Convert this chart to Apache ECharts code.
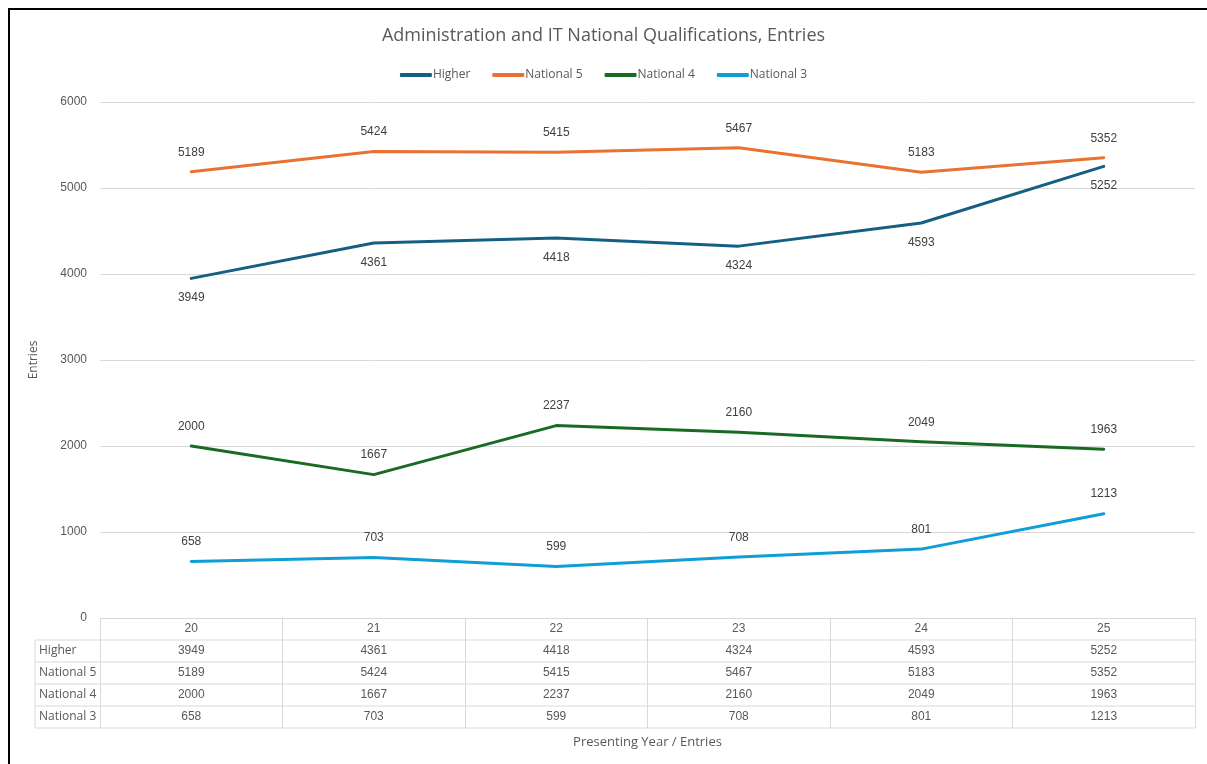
<!DOCTYPE html>
<html>
<head>
<meta charset="utf-8">
<script src="https://cdn.jsdelivr.net/npm/echarts@6/dist/echarts.min.js"></script>
<style>
  html, body { margin: 0; padding: 0; background: #ffffff; }
  #chart { width: 1207px; height: 764px; }
</style>
</head>
<body>
<div id="chart"></div>
<script>
// Presenting years (shown as two-digit years) and entries per qualification level
const years = ['20', '21', '22', '23', '24', '25'];
const higher = [3949, 4361, 4418, 4324, 4593, 5252];
const national5 = [5189, 5424, 5415, 5467, 5183, 5352];
const national4 = [2000, 1667, 2237, 2160, 2049, 1963];
const national3 = [658, 703, 599, 708, 801, 1213];
const seriesNames = ['Higher', 'National 5', 'National 4', 'National 3'];
const yMin = 0, yMax = 6000, yStep = 1000;

const colors = ['#156082', '#E97132', '#196B24', '#0F9ED5'];
const labelPos = ['bottom', 'top', 'top', 'top'];
const seriesData = [higher, national5, national4, national3];

const W = 1207, H = 764;
const GRID = { left: 100, right: 12, top: 102, bottom: 146 };
const ROW_H = 22;                       // data-table row height
const TABLE_LEFT = 35;                  // left edge of the row-name column
const axisY = H - GRID.bottom;          // pixel row of the category axis
const tableRows = seriesNames.length + 1;
const gridLine = '#d9d9d9';
const textColor = '#595959';
const numFont = '"Liberation Sans", Arial, sans-serif';
const uiFont = '"Open Sans", "Liberation Sans", sans-serif';

const chart = echarts.init(document.getElementById('chart'), null, { renderer: 'canvas' });

// Horizontal rules of the data table and the row-name column
const tableGraphics = [];
for (let r = 1; r <= tableRows; r++) {
  tableGraphics.push({
    type: 'line',
    shape: { x1: TABLE_LEFT, y1: axisY + r * ROW_H, x2: W - GRID.right, y2: axisY + r * ROW_H },
    style: { stroke: gridLine, lineWidth: 1 }
  });
}
tableGraphics.push({
  type: 'line',
  shape: { x1: TABLE_LEFT, y1: axisY + ROW_H, x2: TABLE_LEFT, y2: axisY + tableRows * ROW_H },
  style: { stroke: gridLine, lineWidth: 1 }
});
seriesNames.forEach((name, i) => {
  tableGraphics.push({
    type: 'text',
    x: TABLE_LEFT + 4,
    y: axisY + (i + 1) * ROW_H + ROW_H / 2,
    style: { text: name, fill: textColor, font: '12px ' + uiFont, textVerticalAlign: 'middle' }
  });
});

const option = {
  animation: false,
  backgroundColor: '#ffffff',
  color: colors,
  title: {
    text: 'Administration and IT National Qualifications, Entries',
    left: 'center',
    top: 22,
    textStyle: { color: textColor, fontSize: 18, fontWeight: 'normal', fontFamily: uiFont }
  },
  legend: {
    top: 64,
    left: 'center',
    itemWidth: 32,
    itemHeight: 4,
    itemGap: 22,
    icon: 'roundRect',
    data: seriesNames,
    textStyle: { color: textColor, fontSize: 12, fontFamily: uiFont, padding: [0, 0, 0, -4] }
  },
  grid: { left: GRID.left, right: GRID.right, top: GRID.top, bottom: GRID.bottom, containLabel: false },
  xAxis: {
    type: 'category',
    data: years,
    boundaryGap: true,
    name: 'Presenting Year / Entries',
    nameLocation: 'middle',
    nameGap: 118,
    nameTextStyle: { color: textColor, fontSize: 13, fontFamily: uiFont },
    axisLine: { show: true, lineStyle: { color: gridLine, width: 1 } },
    axisTick: { show: true, length: tableRows * ROW_H, lineStyle: { color: gridLine, width: 1 } },
    axisLabel: {
      margin: 0,
      color: textColor,
      fontSize: 12,
      fontFamily: numFont,
      lineHeight: ROW_H,
      formatter: (v, i) => [years[i]].concat(seriesData.map(d => d[i])).join('\n')
    }
  },
  yAxis: {
    type: 'value',
    min: yMin,
    max: yMax,
    interval: yStep,
    name: 'Entries',
    nameLocation: 'middle',
    nameGap: 60,
    nameRotate: 90,
    nameTextStyle: { color: textColor, fontSize: 12, fontFamily: uiFont },
    axisLine: { show: false },
    axisTick: { show: false },
    axisLabel: { color: textColor, fontSize: 12, fontFamily: numFont, margin: 13, formatter: v => String(v) },
    splitLine: { lineStyle: { color: gridLine, width: 1 } }
  },
  series: seriesNames.map((name, i) => ({
    name: name,
    type: 'line',
    data: seriesData[i],
    symbol: 'circle',
    symbolSize: 1,
    showSymbol: true,
    lineStyle: { width: 3, color: colors[i], cap: 'round', join: 'round' },
    itemStyle: { color: colors[i] },
    label: {
      show: true,
      position: labelPos[i],
      distance: 13,
      color: '#404040',
      fontSize: 12,
      fontFamily: numFont
    },
    z: 10 - i
  })),
  graphic: [
    {
      type: 'rect',
      shape: { x: 9, y: 9, width: W + 50, height: H + 50 },
      style: { fill: 'none', stroke: '#000000', lineWidth: 2 },
      z: 100
    }
  ].concat(tableGraphics)
};

chart.setOption(option);
</script>
</body>
</html>
